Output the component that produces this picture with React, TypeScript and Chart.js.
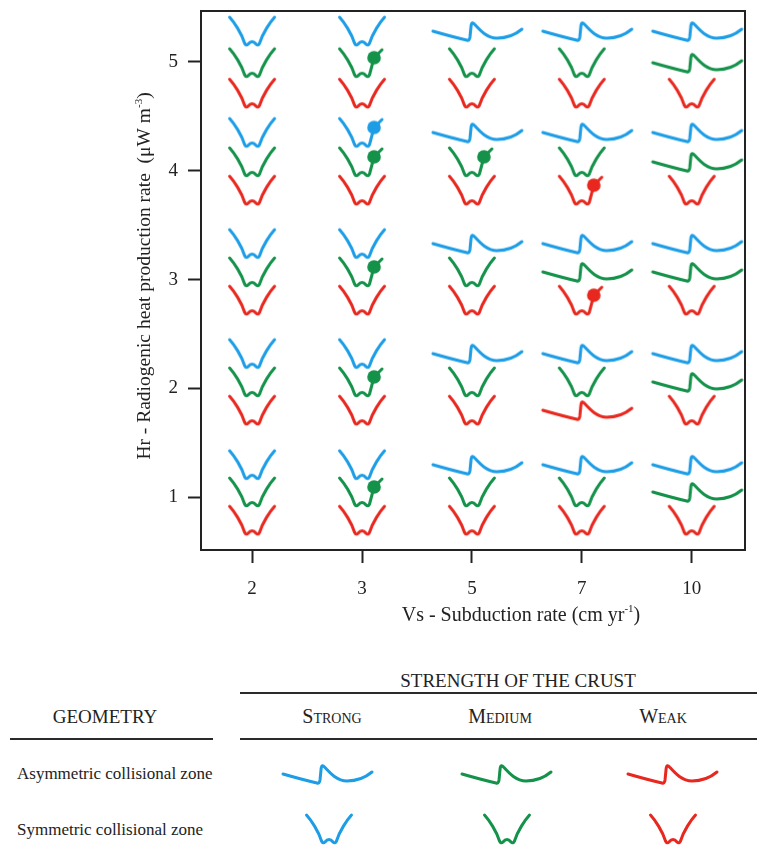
import React, { useEffect, useRef } from "react";
import { Chart, registerables } from "chart.js";
Chart.register(...registerables);

const FONT = '"Liberation Serif", "Times New Roman", serif';

// ---- data ----
const VS_LABELS = ["2", "3", "5", "7", "10"]; // subduction rate, cm/yr (categorical columns)
const HR_TICKS = [1, 2, 3, 4, 5]; // radiogenic heat production, µW m-3
const STRENGTHS = ["Strong", "Medium", "Weak"];
const COLORS = ["#1c9de6", "#14924a", "#e8281f"];

// vertical placement of each strength's glyph in rows Hr = 1..5
const STRONG_Y = [1.3, 2.32, 3.33, 4.35, 5.28];
const MEDIUM_Y = [1.05, 2.06, 3.07, 4.08, 4.99];
const WEAK_Y = [0.79, 1.8, 2.81, 3.82, 4.71];

// outcome per row (Hr 1..5) and column (Vs 2,3,5,7,10)
// S = symmetric collisional zone, A = asymmetric, D = symmetric with marker
const STRONG_SHAPES = ["SSAAA", "SSAAA", "SSAAA", "SDAAA", "SSAAA"];
const MEDIUM_SHAPES = ["SDSSA", "SDSSA", "SDSAA", "SDDSA", "SDSSA"];
const WEAK_SHAPES = ["SSSSS", "SSSAS", "SSSDS", "SSSDS", "SSSSS"];

const GROUP_Y = [STRONG_Y, MEDIUM_Y, WEAK_Y];
const GROUP_SHAPES = [STRONG_SHAPES, MEDIUM_SHAPES, WEAK_SHAPES];

// ---- glyph drawing ----
function drawGlyph(ctx: CanvasRenderingContext2D, shape: string, color: string) {
  ctx.strokeStyle = color;
  ctx.fillStyle = color;
  ctx.lineWidth = 3;
  ctx.lineCap = "round";
  ctx.lineJoin = "round";
  ctx.beginPath();
  if (shape === "A") {
    ctx.moveTo(-39, 0);
    ctx.quadraticCurveTo(-20, 5.5, -5, 9);
    ctx.quadraticCurveTo(-2.5, 9.8, -2, 6);
    ctx.lineTo(-0.8, -6);
    ctx.quadraticCurveTo(0, -10, 2.5, -7);
    ctx.bezierCurveTo(8, -1, 15, 7, 25, 7);
    ctx.bezierCurveTo(35, 7, 44, 3, 50, -2);
    ctx.stroke();
    return;
  }
  ctx.moveTo(-22.5, -14);
  ctx.bezierCurveTo(-18, -9, -10.5, 2, -7.5, 12);
  ctx.quadraticCurveTo(-6, 15, -4, 13);
  ctx.quadraticCurveTo(0, 8, 4, 13);
  ctx.quadraticCurveTo(6, 15, 7.5, 12);
  if (shape === "D") {
    ctx.lineTo(12, -5);
    ctx.lineTo(20, -13);
    ctx.stroke();
    ctx.beginPath();
    ctx.arc(12, -5, 6.8, 0, Math.PI * 2);
    ctx.fill();
    return;
  }
  ctx.bezierCurveTo(10.5, 2, 18, -9, 22.5, -14);
  ctx.stroke();
}

function makeGlyph(shape: string, color: string): HTMLCanvasElement {
  const c = document.createElement("canvas");
  const w = shape === "A" ? 108 : 56;
  const h = 36;
  c.width = w;
  c.height = h;
  const ctx = c.getContext("2d")!;
  ctx.translate(w / 2, h / 2);
  drawGlyph(ctx, shape, color);
  return c;
}

function buildPoints(ys: number[], shapes: string[]) {
  const pts: any[] = [];
  shapes.forEach((row, r) => {
    row.split("").forEach((s, c) => pts.push({ x: c, y: ys[r], shape: s }));
  });
  return pts;
}

function drawSupText(
  ctx: CanvasRenderingContext2D,
  main: string,
  sup: string,
  tail: string,
  cx: number,
  cy: number,
  size: number
) {
  const big = `${size}px ${FONT}`;
  const small = `${Math.round(size * 0.55)}px ${FONT}`;
  ctx.font = big;
  const w1 = ctx.measureText(main).width;
  const w3 = ctx.measureText(tail).width;
  ctx.font = small;
  const w2 = ctx.measureText(sup).width;
  let x = cx - (w1 + w2 + w3) / 2;
  ctx.textBaseline = "alphabetic";
  ctx.textAlign = "left";
  const base = cy + size * 0.33;
  ctx.font = big;
  ctx.fillText(main, x, base);
  x += w1;
  ctx.font = small;
  ctx.fillText(sup, x, base - size * 0.45);
  x += w2;
  ctx.font = big;
  ctx.fillText(tail, x, base);
}

const framePlugin = {
  id: "frameTitles",
  afterDraw(chart: any) {
    const { ctx, chartArea: a } = chart;
    ctx.save();
    ctx.strokeStyle = "#222";
    ctx.lineWidth = 2;
    ctx.strokeRect(a.left, a.top, a.right - a.left, a.bottom - a.top);
    ctx.fillStyle = "#222";
    drawSupText(ctx, "Vs - Subduction rate (cm yr", "-1", ")", 521, 614, 20);
    ctx.translate(144, 276);
    ctx.rotate(-Math.PI / 2);
    drawSupText(ctx, "Hr - Radiogenic heat production rate  (\u03bcW m", "-3", ")", 0, 0, 19.5);
    ctx.restore();
  },
};

function LegendGlyph({ shape, color, cx, cy }: { shape: string; color: string; cx: number; cy: number }) {
  const ref = useRef<HTMLCanvasElement>(null);
  const w = shape === "A" ? 108 : 56;
  const h = 36;
  useEffect(() => {
    const c = ref.current!;
    const ctx = c.getContext("2d")!;
    ctx.clearRect(0, 0, w, h);
    ctx.save();
    ctx.translate(w / 2, h / 2);
    drawGlyph(ctx, shape, color);
    ctx.restore();
  }, [shape, color]);
  return (
    <canvas
      ref={ref}
      width={w}
      height={h}
      style={{ position: "absolute", left: cx - w / 2, top: cy - h / 2, width: w, height: h }}
    />
  );
}

function Label({ text, cx, cy, size, sc, left }: any) {
  const style: any = {
    position: "absolute",
    top: cy,
    fontFamily: FONT,
    fontSize: size,
    lineHeight: 1,
    whiteSpace: "nowrap",
    color: "#222",
    fontVariant: sc ? "small-caps" : "normal",
  };
  if (left !== undefined) {
    style.left = left;
    style.transform = "translateY(-50%)";
  } else {
    style.left = cx;
    style.transform = "translate(-50%, -50%)";
  }
  return <div style={style}>{text}</div>;
}

function Rule({ x1, x2, y }: { x1: number; x2: number; y: number }) {
  return (
    <div style={{ position: "absolute", left: x1, top: y - 1, width: x2 - x1, height: 2, background: "#2a2a2a" }} />
  );
}

const LEGEND_X_SYM = [329, 507, 673];
const LEGEND_X_ASYM = [322, 501, 667];
const LEGEND_X_HEAD = [332, 500, 663];

export default function App() {
  const canvasRef = useRef<HTMLCanvasElement>(null);

  useEffect(() => {
    const glyphs = COLORS.map((col) => ({
      S: makeGlyph("S", col),
      A: makeGlyph("A", col),
      D: makeGlyph("D", col),
    }));
    const datasets = STRENGTHS.map((name, i) => ({
      label: name,
      data: buildPoints(GROUP_Y[i], GROUP_SHAPES[i]),
      pointStyle: (ctx: any) => (glyphs[i] as any)[ctx.raw ? ctx.raw.shape : "S"],
      pointRadius: 10,
      borderColor: COLORS[i],
      backgroundColor: COLORS[i],
      showLine: false,
    }));
    const tickFont = { family: FONT, size: 19, lineHeight: 0.5 };
    const chart = new Chart(canvasRef.current!, {
      type: "scatter",
      data: { datasets },
      options: {
        animation: false,
        responsive: false,
        events: [],
        layout: { padding: { left: 0, top: 7, right: 12, bottom: 0 } },
        plugins: { legend: { display: false }, tooltip: { enabled: false } },
        scales: {
          x: {
            type: "linear",
            min: -0.465,
            max: 4.485,
            afterBuildTicks: (s: any) => {
              s.ticks = VS_LABELS.map((_, i) => ({ value: i }));
            },
            afterFit: (s: any) => {
              s.height = 90;
              s.paddingLeft = 0;
              s.paddingRight = 0;
            },
            ticks: {
              callback: (_v: any, i: number) => VS_LABELS[i],
              font: { family: FONT, size: 19 },
              color: "#222",
              padding: 15,
              maxRotation: 0,
            },
            grid: { drawOnChartArea: false, drawTicks: true, tickLength: 13, tickWidth: 2, tickColor: "#222" },
            border: { display: true, color: "#222", width: 2 },
          },
          y: {
            type: "linear",
            min: 0.517,
            max: 5.465,
            afterBuildTicks: (s: any) => {
              s.ticks = HR_TICKS.map((v) => ({ value: v }));
            },
            afterFit: (s: any) => {
              s.width = 201;
              s.paddingTop = 0;
              s.paddingBottom = 0;
            },
            ticks: { font: tickFont, color: "#222", padding: 10 },
            grid: { drawOnChartArea: false, drawTicks: true, tickLength: 13, tickWidth: 2, tickColor: "#222" },
            border: { display: true, color: "#222", width: 2 },
          },
        },
      },
      plugins: [framePlugin],
    } as any);
    return () => chart.destroy();
  }, []);

  return (
    <div style={{ position: "absolute", left: 0, top: 0, width: 757, height: 849, background: "#fff" }}>
      <canvas ref={canvasRef} width={757} height={640} style={{ position: "absolute", left: 0, top: 0, width: 757, height: 640 }} />
      <Label text="STRENGTH OF THE CRUST" cx={518} cy={680} size={19} />
      <Rule x1={240} x2={757} y={693} />
      <Label text="GEOMETRY" cx={105} cy={716} size={19} />
      {STRENGTHS.map((s, i) => (
        <Label key={s} text={s} cx={LEGEND_X_HEAD[i]} cy={716} size={20} sc />
      ))}
      <Rule x1={10} x2={213} y={739} />
      <Rule x1={240} x2={757} y={739} />
      <Label text="Asymmetric collisional zone" left={17} cy={773} size={17} />
      <Label text="Symmetric collisional zone" left={17} cy={829} size={17} />
      {COLORS.map((c, i) => (
        <LegendGlyph key={"a" + i} shape="A" color={c} cx={LEGEND_X_ASYM[i]} cy={774} />
      ))}
      {COLORS.map((c, i) => (
        <LegendGlyph key={"s" + i} shape="S" color={c} cx={LEGEND_X_SYM[i]} cy={829} />
      ))}
    </div>
  );
}
